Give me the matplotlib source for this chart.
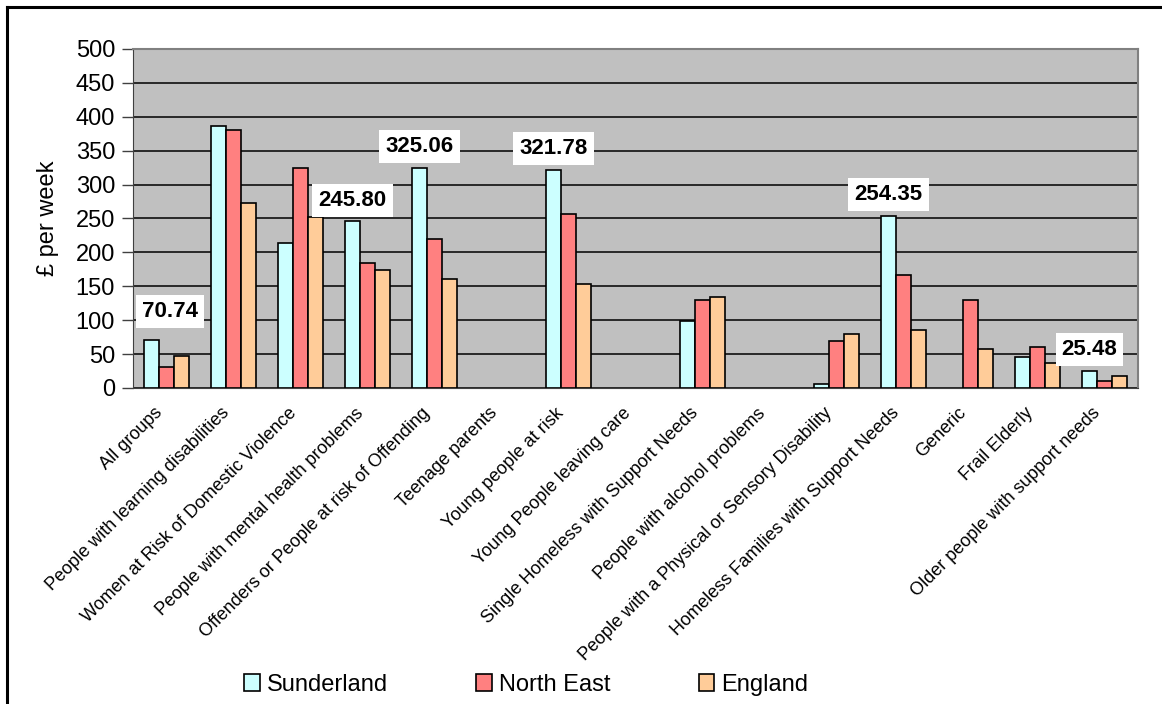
import numpy as np
import matplotlib
matplotlib.use("Agg")
from matplotlib import pyplot as plt
from matplotlib.lines import Line2D
import matplotlib.transforms as mtransforms

plt.rcParams['font.family'] = ['Liberation Sans', 'DejaVu Sans']

categories = [
    "All groups",
    "People with learning disabilities",
    "Women at Risk of Domestic Violence",
    "People with mental health problems",
    "Offenders or People at risk of Offending",
    "Teenage parents",
    "Young people at risk",
    "Young People leaving care",
    "Single Homeless with Support Needs",
    "People with alcohol problems",
    "People with a Physical or Sensory Disability",
    "Homeless Families with Support Needs",
    "Generic",
    "Frail Elderly",
    "Older people with support needs",
]
nan = float('nan')
sunderland = [70.74, 386, 214, 245.80, 325.06, nan, 321.78, nan, 99, nan, 6, 254.35, nan, 46, 25.48]
north_east = [31, 380, 325, 184, 220, nan, 256, nan, 130, nan, 70, 167, 130, 61, 11]
england = [47, 273, 252, 174, 161, nan, 153, nan, 134, nan, 79, 85, 57, 37, 17]
labelled = [0, 3, 4, 6, 11, 14]

fig = plt.figure(figsize=(11.62, 7.04), dpi=100)
ax = fig.add_axes([0.1145, 0.4489, 0.8648, 0.4815])
ax.set_facecolor("#C0C0C0")

x = np.arange(len(categories))
w = 0.224
series = [("Sunderland", sunderland, "#CCFFFF"),
          ("North East", north_east, "#FF8080"),
          ("England", england, "#FFCC99")]
for i, (name, vals, col) in enumerate(series):
    ax.bar(x + (i - 1) * w, vals, w, color=col, edgecolor="black",
           linewidth=1.2, label=name, zorder=3)

# value labels for Sunderland
for k in labelled:
    v = sunderland[k]
    dx = 18 if k == 0 else 0
    dy = 29 if k == 0 else 21
    ax.annotate(f"{v:.2f}", (x[k] - w, v), xytext=(dx * 0.72, dy * 0.72),
                textcoords="offset points", ha="center", va="center",
                fontsize=16, fontweight="bold", zorder=5,
                bbox=dict(boxstyle="square,pad=0.27", fc="white", ec="none"))

ax.set_xlim(-0.5, len(categories) - 0.5)
ax.set_ylim(0, 500)
ax.set_yticks(range(0, 501, 50))
ax.yaxis.grid(True, color="black", linewidth=1.1, zorder=1)
ax.set_axisbelow(True)
ax.tick_params(axis='y', direction='out', length=8, width=1, color="#404040",
               labelsize=17, pad=5)
ax.tick_params(axis='x', length=0, pad=12)
ax.set_xticks(x)
ax.set_xticklabels(categories, rotation=45, ha="right", rotation_mode="anchor",
                   fontsize=13)
shift = mtransforms.ScaledTranslation(-0.13, 0, fig.dpi_scale_trans)
for lab in ax.get_xticklabels():
    lab.set_transform(lab.get_transform() + shift)
ax.set_ylabel("£ per week", fontsize=17, labelpad=12)
for s in ["top", "right"]:
    ax.spines[s].set_color("#808080")
    ax.spines[s].set_linewidth(1.5)
ax.spines["left"].set_color("#404040")
ax.spines["bottom"].set_color("#404040")

fig.legend(loc="center", bbox_to_anchor=(0.453, 1 - 685 / 704), ncol=3,
           frameon=False, fontsize=17, handlelength=0.65, handleheight=0.75,
           handletextpad=0.3, columnspacing=3.75)

# outer frame
fig.add_artist(Line2D([7 / 1162, 7 / 1162], [0, 1 - 7 / 704], color="black",
                      linewidth=2.2, transform=fig.transFigure))
fig.add_artist(Line2D([7 / 1162, 1], [1 - 7 / 704, 1 - 7 / 704], color="black",
                      linewidth=2.2, transform=fig.transFigure))

fig.savefig("out.png", dpi=100, facecolor="white")
